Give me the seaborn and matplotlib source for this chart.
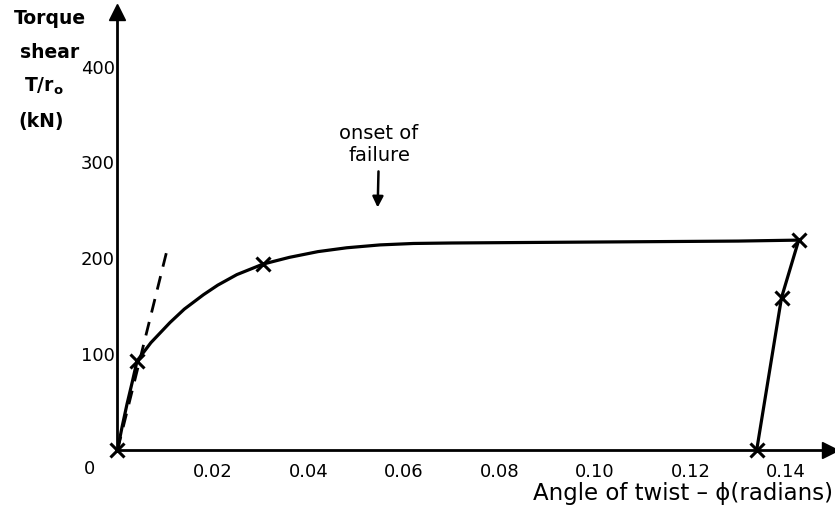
import matplotlib
matplotlib.use("Agg")
import matplotlib.pyplot as plt
import seaborn as sns
import pandas as pd

# ---- data ----
load_phi = [0.0, 0.0010, 0.0020, 0.0031, 0.0041, 0.007, 0.011, 0.014, 0.018, 0.021,
            0.025, 0.0305, 0.036, 0.042, 0.048, 0.055, 0.062, 0.07, 0.10, 0.13, 0.1427]
load_T = [0, 25, 48, 71, 93, 112, 133, 147, 162, 172,
          183, 194, 201, 207, 211, 214, 215.5, 216, 217, 218, 219]

unload_phi = [0.1427, 0.1391, 0.1339]
unload_T = [219, 159, 0]

marker_phi = [0.0, 0.0041, 0.0305, 0.1427, 0.1391, 0.1339]
marker_T = [0, 93, 194, 219, 159, 0]

elastic_phi = [0.0, 0.0106]
elastic_T = [0, 213]

x_ticks = [0.02, 0.04, 0.06, 0.08, 0.10, 0.12, 0.14]
x_tick_labels = ["0.02", "0.04", "0.06", "0.08", "0.10", "0.12", "0.14"]
y_ticks = [100, 200, 300, 400]
y_tick_labels = ["100", "200", "300", "400"]
y_title_lines = ["Torque", "shear", "T/r$_\\mathregular{o}$", "(kN)"]

onset_phi, onset_T = 0.0545, 253

sns.set_style("white")
plt.rcParams["font.family"] = ["DejaVu Sans"]
plt.rcParams["text.color"] = "black"

W, H = 835, 509
fig = plt.figure(figsize=(W / 100, H / 100), dpi=100)
ax = fig.add_axes([0.1407, 0.1159, 0.853, 0.8605])

load = pd.DataFrame({"phi": load_phi, "T": load_T})
unload = pd.DataFrame({"phi": unload_phi, "T": unload_T})
marks = pd.DataFrame({"phi": marker_phi, "T": marker_T})
elastic = pd.DataFrame({"phi": elastic_phi, "T": elastic_T})

sns.lineplot(data=load, x="phi", y="T", sort=False, color="black", lw=2.3, ax=ax)
sns.lineplot(data=unload, x="phi", y="T", sort=False, color="black", lw=2.3, ax=ax)
sns.lineplot(data=elastic, x="phi", y="T", sort=False, color="black", lw=2.0,
             ax=ax, dashes=False, linestyle=(0, (5, 3.5)))
ax.plot(marks["phi"], marks["T"], linestyle="none", marker="x", ms=10, mew=2.2,
        color="black", clip_on=False, zorder=5)

ax.set_xlim(0, 0.1492)
ax.set_ylim(0, 457)

for s in ["top", "right"]:
    ax.spines[s].set_visible(False)
for s in ["left", "bottom"]:
    ax.spines[s].set_linewidth(2.0)
    ax.spines[s].set_color("black")

ax.set_xticks(x_ticks)
ax.set_xticklabels(x_tick_labels)
ax.set_yticks(y_ticks)
ax.set_yticklabels(y_tick_labels)
ax.tick_params(axis="both", direction="in", length=7, width=1.6, colors="black",
               labelsize=13, labelcolor="black")
ax.tick_params(axis="x", pad=9)
ax.tick_params(axis="y", pad=2)
ax.set_xlabel("")
ax.set_ylabel("")

# axis arrows
ax.plot(1, 0, ">k", ms=11, transform=ax.get_yaxis_transform(), clip_on=False)
ax.plot(0, 1, "^k", ms=11, transform=ax.get_xaxis_transform(), clip_on=False)

# origin label
ax.annotate("0", xy=(0, 0), xytext=(-20, -7), textcoords="offset points",
            ha="center", va="top", fontsize=13, color="black")

# y-axis title, one line per text
line_pos = [(50, 18), (50, 52), (44, 86), (41, 122)]
for txt, (px, py) in zip(y_title_lines, line_pos):
    fig.text(px / W, 1 - py / H, txt, ha="center", va="center", fontsize=13.5,
             fontweight="bold", color="black")

# x-axis title
fig.text(0.998, 0.008, "Angle of twist – ϕ(radians)", ha="right", va="bottom",
         fontsize=16.5, color="black")

# onset of failure annotation
ax.annotate("onset of\nfailure", xy=(onset_phi, onset_T), xytext=(onset_phi + 0.0003, 297),
            ha="center", va="bottom", fontsize=14, linespacing=1.2, color="black",
            arrowprops=dict(arrowstyle="-|>", color="black", lw=1.8,
                            mutation_scale=16, shrinkA=2, shrinkB=0))

fig.savefig("out.png", dpi=100)
